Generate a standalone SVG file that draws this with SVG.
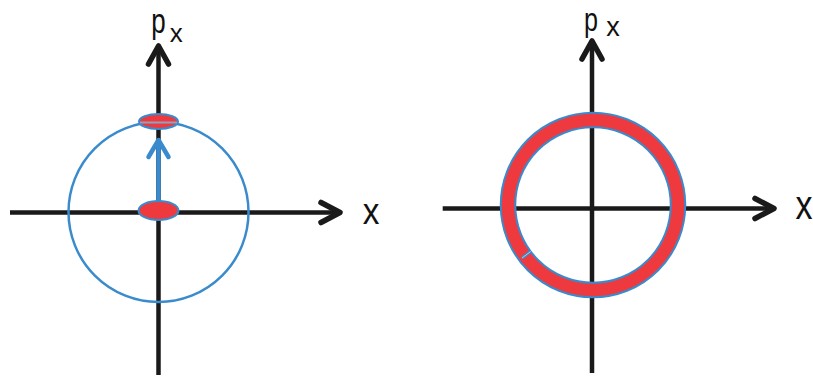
<svg xmlns="http://www.w3.org/2000/svg" width="813" height="381" viewBox="0 0 813 381">
<style>
.axis{stroke:#1a1a1a;stroke-width:4.5;fill:none;stroke-linecap:butt}
.head{stroke:#1a1a1a;stroke-width:5.5;fill:none;stroke-linecap:round;stroke-linejoin:round}
.lbl{font-family:"Liberation Sans",Arial,sans-serif;fill:#111;text-anchor:middle}
.blue{stroke:#3a8bcd;fill:none}
.dot{fill:#ee3a3e;stroke:#3a8bcd;stroke-width:2}
</style>
<rect width="813" height="381" fill="#fff"/>
<g id="left-panel">
  <g id="left-axes">
    <line class="axis" x1="10" y1="212.5" x2="339" y2="212.5"/>
    <polyline class="head" points="321,202.5 340,212.5 321,222.5"/>
    <line class="axis" x1="158.5" y1="375" x2="158.5" y2="47"/>
    <polyline class="head" points="148.5,64 158.5,46 168.5,64"/>
  </g>
  <g id="left-circle">
    <circle class="blue" cx="158.5" cy="212" r="90" stroke-width="2.5"/>
  </g>
  <g id="left-dots">
    <ellipse class="dot" cx="158.5" cy="121.5" rx="19.5" ry="7.5"/>
    <line x1="140" y1="122.5" x2="177" y2="122.5" stroke="#8aa3c0" stroke-width="1.8"/>
    <ellipse class="dot" cx="158.5" cy="210.5" rx="20" ry="9.5"/>
  </g>
  <g id="left-arrow">
    <line class="blue" x1="158.5" y1="201" x2="158.5" y2="142" stroke-width="4.5"/>
    <polyline class="blue" points="148.5,157 158.5,140 168.5,157" stroke-width="4.5" stroke-linecap="round" stroke-linejoin="round"/>
  </g>
  <g id="left-labels">
    <text class="lbl" font-size="36" transform="translate(158.5,33) scale(0.72,1)">p</text>
    <text class="lbl" font-size="26" x="176.3" y="42">x</text>
    <text class="lbl" font-size="37" transform="translate(371,224.3) scale(0.9,1)">x</text>
  </g>
</g>
<g id="right-panel">
  <g id="right-axes">
    <line class="axis" x1="442.7" y1="208.5" x2="773" y2="208.5"/>
    <polyline class="head" points="755,198.5 774,208.5 755,218.5"/>
    <line class="axis" x1="592" y1="373" x2="592" y2="42"/>
    <polyline class="head" points="582,59 592,41 602,59"/>
  </g>
  <g id="right-ring">
    <circle cx="593" cy="205" r="85" fill="none" stroke="#3a8bcd" stroke-width="16.5"/>
    <circle cx="593" cy="205" r="85" fill="none" stroke="#ee3a3e" stroke-width="12.5"/>
    <line x1="530.7" y1="251.5" x2="522" y2="258" stroke="#3a8bcd" stroke-width="3"/>
    <line x1="530.7" y1="251.5" x2="522" y2="258" stroke="#a9cbe6" stroke-width="1"/>
  </g>
  <g id="right-labels">
    <text class="lbl" font-size="34" transform="translate(591,31) scale(0.74,1)">p</text>
    <text class="lbl" font-size="27" x="613" y="35.5">x</text>
    <text class="lbl" font-size="40" transform="translate(804,219.3) scale(0.85,1)">x</text>
  </g>
</g>
</svg>
